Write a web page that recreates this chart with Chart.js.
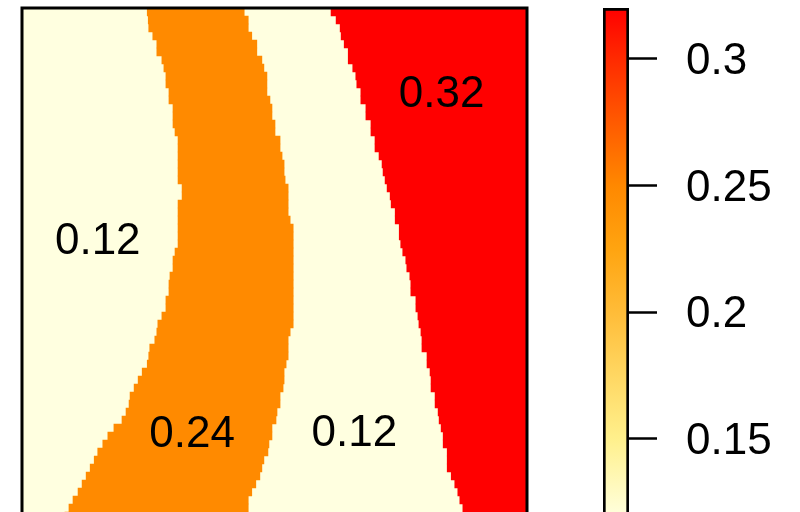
<!DOCTYPE html>
<html>
<head>
<meta charset="utf-8">
<script src="https://cdn.jsdelivr.net/npm/chart.js@4"></script>
<style>
  html, body { margin: 0; padding: 0; background: #fff; overflow: hidden; }
  #plotBox { position: absolute; left: 0; top: 0; width: 560px; height: 540px; }
  #barBox { position: absolute; left: 560px; top: 0; width: 240px; height: 540px; }
</style>
</head>
<body>
<div id="plotBox"><canvas id="plot" width="560" height="540"></canvas></div>
<div id="barBox"><canvas id="legend" width="240" height="540"></canvas></div>
<script>
// region edges per raster row, top row first; x runs 0..1 across the plot
const leftEdge = [   // yellow -> orange
  0.248, 0.250, 0.251, 0.259, 0.267, 0.267, 0.277, 0.281,
  0.285, 0.285, 0.291, 0.291, 0.299, 0.299, 0.299, 0.303,
  0.309, 0.309, 0.309, 0.309, 0.309, 0.309, 0.317, 0.317,
  0.309, 0.309, 0.309, 0.309, 0.309, 0.309, 0.303, 0.299,
  0.299, 0.293, 0.291, 0.291, 0.285, 0.285, 0.277, 0.269,
  0.267, 0.263, 0.253, 0.251, 0.248, 0.238, 0.230, 0.222,
  0.214, 0.212, 0.206, 0.198, 0.182, 0.170, 0.160, 0.150,
  0.143, 0.135, 0.127, 0.119, 0.111, 0.101, 0.093, 0.085
];
const midEdge = [    // orange -> yellow
  0.440, 0.448, 0.448, 0.455, 0.465, 0.465, 0.475, 0.479,
  0.485, 0.485, 0.485, 0.491, 0.495, 0.495, 0.501, 0.501,
  0.511, 0.511, 0.515, 0.519, 0.519, 0.521, 0.527, 0.527,
  0.527, 0.527, 0.531, 0.537, 0.537, 0.537, 0.537, 0.537,
  0.537, 0.537, 0.537, 0.537, 0.537, 0.537, 0.537, 0.537,
  0.531, 0.527, 0.527, 0.527, 0.523, 0.519, 0.519, 0.517,
  0.511, 0.511, 0.505, 0.503, 0.495, 0.495, 0.489, 0.487,
  0.479, 0.475, 0.471, 0.463, 0.455, 0.448, 0.448, 0.442
];
const redEdge = [    // yellow -> red
  0.612, 0.622, 0.630, 0.632, 0.638, 0.646, 0.646, 0.655,
  0.661, 0.663, 0.671, 0.671, 0.681, 0.681, 0.691, 0.691,
  0.699, 0.699, 0.707, 0.713, 0.715, 0.719, 0.723, 0.729,
  0.731, 0.739, 0.739, 0.747, 0.747, 0.750, 0.754, 0.760,
  0.762, 0.768, 0.770, 0.770, 0.780, 0.780, 0.784, 0.786,
  0.790, 0.792, 0.792, 0.802, 0.802, 0.808, 0.810, 0.810,
  0.818, 0.818, 0.824, 0.826, 0.830, 0.834, 0.834, 0.842,
  0.842, 0.842, 0.850, 0.857, 0.863, 0.867, 0.873, 0.879
];
const rows = leftEdge.map((_, i) => i);

const levelColors = ['#FFFFE0', '#FF8A00', '#FF0000'];

// contour labels: text, x (0..1), row
const labelTexts = ['0.12', '0.32', '0.24', '0.12'];
const labelX = [0.150, 0.831, 0.337, 0.658];
const labelRow = [28.7, 10.3, 52.9, 52.7];

// colour key
const zRange = [0.12, 0.32];
const zTicks = [0.15, 0.2, 0.25, 0.3];
const rampValues = [0.12, 0.15, 0.18, 0.20, 0.225, 0.25, 0.275, 0.30, 0.32];
const rampColors = ['#FFFFDC', '#FFF08C', '#FFD25A', '#FFBC38', '#FFA410', '#FF8800', '#FF5A00', '#FF2A00', '#FF0000'];

const fontFamily = '"Liberation Sans", Arial, sans-serif';
Chart.defaults.font.family = fontFamily;

const boxAndText = {
  id: 'boxAndText',
  afterDatasetsDraw(chart) {
    const { ctx, chartArea, scales } = chart;
    ctx.save();
    ctx.fillStyle = '#000';
    ctx.font = '44px ' + fontFamily;
    ctx.textAlign = 'center';
    ctx.textBaseline = 'middle';
    labelTexts.forEach((t, k) => {
      ctx.fillText(t, scales.x.getPixelForValue(labelX[k]), scales.y.getPixelForValue(labelRow[k]));
    });
    ctx.strokeStyle = '#000';
    ctx.lineWidth = 3;
    ctx.strokeRect(chartArea.left, chartArea.top, chartArea.right - chartArea.left, chartArea.bottom - chartArea.top);
    ctx.restore();
  }
};

new Chart(document.getElementById('plot'), {
  type: 'bar',
  data: {
    labels: rows,
    datasets: [
      { data: rows.map(() => [0, 1]), backgroundColor: levelColors[0], order: 3 },
      { data: rows.map(i => [leftEdge[i], midEdge[i]]), backgroundColor: levelColors[1], order: 2 },
      { data: rows.map(i => [redEdge[i], 1]), backgroundColor: levelColors[2], order: 1 }
    ]
  },
  options: {
    indexAxis: 'y',
    responsive: false,
    animation: false,
    layout: { padding: { left: 22, top: 8, right: 33, bottom: 20 } },
    datasets: { bar: { grouped: false, barPercentage: 1, categoryPercentage: 1, borderWidth: 0 } },
    scales: {
      x: { type: 'linear', min: 0, max: 1, display: false },
      y: { type: 'category', display: false }
    },
    plugins: { legend: { display: false }, tooltip: { enabled: false } }
  },
  plugins: [boxAndText]
});

new Chart(document.getElementById('legend'), {
  type: 'bar',
  data: {
    labels: [''],
    datasets: [{
      data: [zRange],
      backgroundColor(c) {
        const area = c.chart.chartArea;
        if (!area) return rampColors[0];
        const g = c.chart.ctx.createLinearGradient(0, area.bottom, 0, area.top);
        rampValues.forEach((v, i) => g.addColorStop((v - zRange[0]) / (zRange[1] - zRange[0]), rampColors[i]));
        return g;
      },
      borderColor: '#000',
      borderWidth: 3,
      borderSkipped: false
    }]
  },
  options: {
    responsive: false,
    animation: false,
    layout: { padding: { left: 43, top: 8, right: 0, bottom: 25 } },
    datasets: { bar: { barPercentage: 1, categoryPercentage: 1 } },
    scales: {
      x: { display: false },
      y: {
        position: 'right',
        min: zRange[0],
        max: zRange[1],
        afterBuildTicks(s) { s.ticks = zTicks.map(v => ({ value: v })); },
        afterFit(s) { s.width = 171; s.paddingTop = 0; s.paddingBottom = 0; },
        border: { display: false },
        grid: { drawOnChartArea: false, drawTicks: true, tickLength: 28, tickWidth: 2.5, tickColor: '#000' },
        ticks: { padding: 29, color: '#000', font: { size: 44 }, labelOffset: 3, callback: v => String(v) }
      }
    },
    plugins: { legend: { display: false }, tooltip: { enabled: false } }
  }
});
</script>
</body>
</html>
